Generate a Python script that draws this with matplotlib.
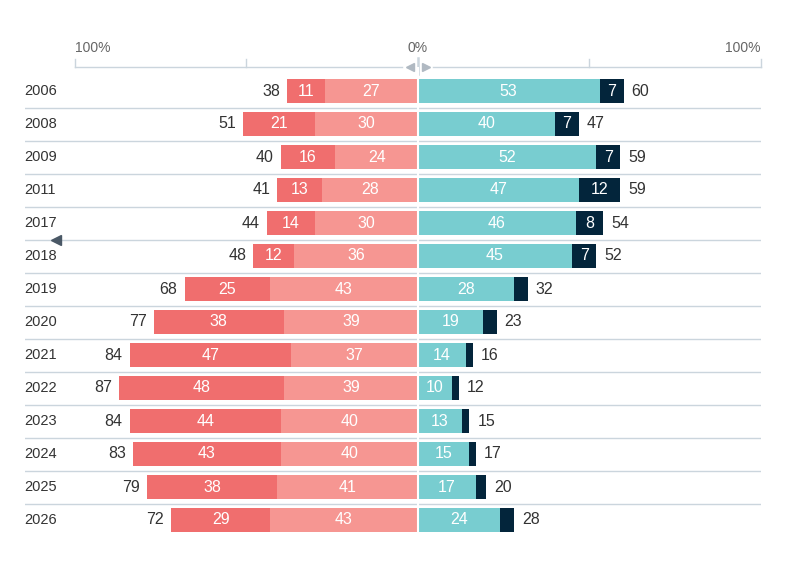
import matplotlib
matplotlib.use("Agg")
from matplotlib import pyplot as plt

plt.rcParams['font.family'] = ['Liberation Sans', 'DejaVu Sans']

years = ['2006', '2008', '2009', '2011', '2017', '2018', '2019', '2020',
         '2021', '2022', '2023', '2024', '2025', '2026']
left_total = [38, 51, 40, 41, 44, 48, 68, 77, 84, 87, 84, 83, 79, 72]
left_dark = [11, 21, 16, 13, 14, 12, 25, 38, 47, 48, 44, 43, 38, 29]
left_light = [27, 30, 24, 28, 30, 36, 43, 39, 37, 39, 40, 40, 41, 43]
right_teal = [53, 40, 52, 47, 46, 45, 28, 19, 14, 10, 13, 15, 17, 24]
right_navy = [7, 7, 7, 12, 8, 7, 4, 4, 2, 2, 2, 2, 3, 4]
right_total = [60, 47, 59, 59, 54, 52, 32, 23, 16, 12, 15, 17, 20, 28]

c_dark = '#F06E6E'
c_light = '#F69692'
c_teal = '#78CDD0'
c_navy = '#03253B'
c_grid = '#CBD5DD'
c_text = '#333333'

W, H = 785, 581
fig = plt.figure(figsize=(W / 100, H / 100), dpi=100)
ax = fig.add_axes([24.8 / W, 1 - 536.5 / H, (760 - 24) / W, (536.5 - 67) / H])
px = 343 / 100.0  # pixels per unit
xmin = (24 - 417) / px
ax.set_xlim(xmin, 100)
ax.set_ylim(len(years) - 0.5, -24 / 33)

y = list(range(len(years)))
bh = 0.7
ax.barh(y, [-v for v in left_light], height=bh, color=c_light, left=0)
ax.barh(y, [-v for v in left_dark], height=bh, color=c_dark, left=[-v for v in left_light])
ax.barh(y, right_teal, height=bh, color=c_teal, left=0)
ax.barh(y, right_navy, height=bh, color=c_navy, left=right_teal)
ax.axvline(0, ymin=0, ymax=1, color='white', lw=1.5, zorder=3)

for i in range(len(years)):
    fs = 11.5
    if left_light[i] >= 5:
        ax.text(-left_light[i] / 2, i, str(left_light[i]), color='white', ha='center', va='center', fontsize=fs)
    if left_dark[i] >= 5:
        ax.text(-left_light[i] - left_dark[i] / 2, i, str(left_dark[i]), color='white', ha='center', va='center', fontsize=fs)
    if right_teal[i] >= 5:
        ax.text(right_teal[i] / 2, i, str(right_teal[i]), color='white', ha='center', va='center', fontsize=fs)
    if right_navy[i] >= 5:
        ax.text(right_teal[i] + right_navy[i] / 2, i, str(right_navy[i]), color='white', ha='center', va='center', fontsize=fs)
    ax.text(-left_light[i] - left_dark[i] - 7 / px, i, str(left_total[i]), color=c_text, ha='right', va='center', fontsize=fs)
    ax.text(right_teal[i] + right_navy[i] + 8 / px, i, str(right_total[i]), color=c_text, ha='left', va='center', fontsize=fs)
    ax.text(xmin - 1 / px, i, years[i], color=c_text, ha='left', va='center', fontsize=10.5)
    if i < len(years) - 1:
        ax.plot([xmin - 1 / px, 100], [i + 0.5, i + 0.5], color=c_grid, lw=1, zorder=0)

# top axis
ytop = -24 / 33
ax.plot([-100, -4.5], [ytop, ytop], color=c_grid, lw=1, clip_on=False)
ax.plot([4.5, 100], [ytop, ytop], color=c_grid, lw=1, clip_on=False)
for t in [-100, -50, 50, 100]:
    ax.plot([t, t], [ytop, ytop - 8 / 33], color=c_grid, lw=1, clip_on=False)
ax.plot([0, 0], [ytop + 7 / 33, ytop - 9 / 33], color=c_grid, lw=1.8, clip_on=False)
ax.plot([-2.4], [ytop], marker='<', color='#B0B9C2', markersize=5.5, clip_on=False)
ax.plot([2.4], [ytop], marker='>', color='#B0B9C2', markersize=5.5, clip_on=False)
ylab = ytop - 19 / 33
ax.text(-100, ylab, '100%', ha='left', va='center', color='#666666', fontsize=10)
ax.text(0, ylab, '0%', ha='center', va='center', color='#666666', fontsize=10)
ax.text(100, ylab, '100%', ha='right', va='center', color='#666666', fontsize=10)

# small marker on the left
ax.plot([(55 - 417) / px], [4.5], marker='<', color='#4A5866', markersize=7, clip_on=False, zorder=5)

ax.axis('off')
fig.savefig('out.png', dpi=100)
